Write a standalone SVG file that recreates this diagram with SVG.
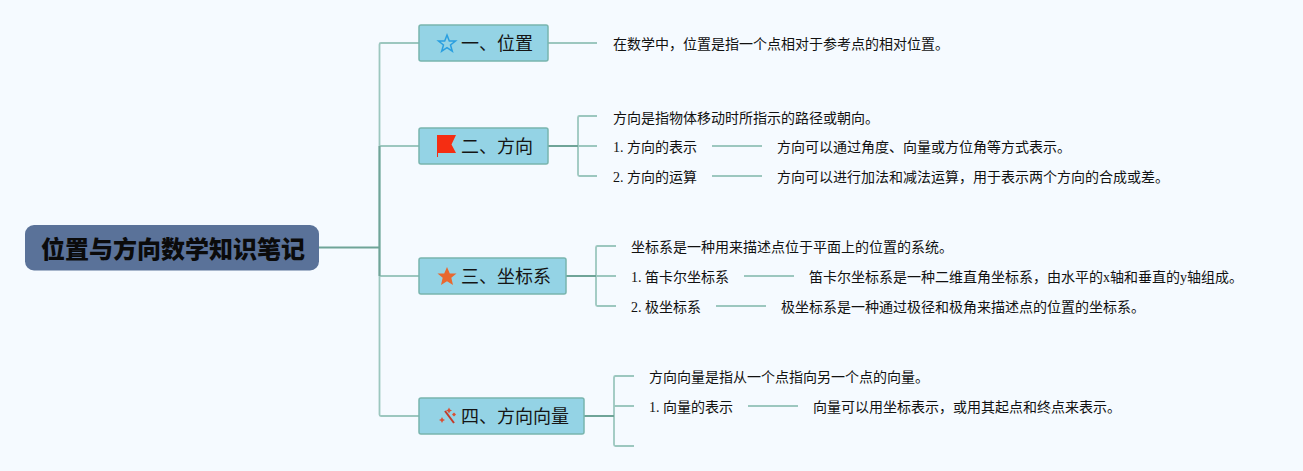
<svg xmlns="http://www.w3.org/2000/svg" width="1303" height="471" viewBox="0 0 1303 471">
<style>
text{font-family:"Liberation Serif","Noto Sans CJK SC",serif;fill:#111}
.t{font-size:14px}
.h{font-size:18px;font-family:"Noto Sans CJK SC","Noto Sans",sans-serif;fill:#151515}
.b{fill:#94d3e5;stroke:#78b5ae;stroke-width:1.5}
.l{fill:none;stroke:#9cc7bf;stroke-width:1.8}
.d{fill:none;stroke:#6fa498;stroke-width:2}
</style>
<rect width="1303" height="471" fill="#f5faff"/>
<g id="connectors">
<path class="l" d="M419 43H381Q379.500 43 379.500 44.500V414.500Q379.500 416 381 416H419M379.500 146H419M379.500 276H419"/>
<path class="d" d="M319 247.500H379.500M379.500 146V276"/>
<path class="l" d="M548 43H597"/>
<path class="l" d="M597 116H579.500Q578 116 578 117.500V174.500Q578 176 579.500 176H597M578 146H597"/>
<path class="d" d="M548 146H578"/>
<path class="l" d="M712 146H762M712 176H762"/>
<path class="l" d="M616 246H597.500Q596 246 596 247.500V304.500Q596 306 597.500 306H616M596 276H616"/>
<path class="d" d="M566 276H596"/>
<path class="l" d="M744 276H794M716 306H766"/>
<path class="l" d="M634 376H615.500Q614 376 614 377.500V444.500Q614 446 615.500 446H634M614 406H634"/>
<path class="d" d="M584 416H614"/>
<path class="l" d="M748 406H798"/>
</g>
<g id="root">
<rect x="25" y="225" width="294" height="45.500" rx="9" fill="#5a7299"/>
<text x="41" y="258" font-size="24" font-weight="900" fill="#0b0b0b" style="font-family:'Noto Sans CJK SC',sans-serif;fill:#0b0b0b">位置与方向数学知识笔记</text>
</g>
<g id="topic1">
<rect class="b" x="419" y="25" width="129" height="36" rx="2"/>
<path d="M447 35L449.300 41H455.500L450.500 45L452.300 51.200L447 47.600L441.700 51.200L443.500 45L438.500 41H444.700Z" fill="none" stroke="#2a9fe0" stroke-width="1.500"/>
<text class="h" x="461" y="50">一、位置</text>
</g>
<g id="topic2">
<rect class="b" x="419" y="128" width="129" height="36" rx="2"/>
<path d="M437 135H456L451.500 144.500L456 153H438V157H437Z" fill="#f52d12"/>
<text class="h" x="461" y="153">二、方向</text>
</g>
<g id="topic3">
<rect class="b" x="419" y="258" width="147" height="36" rx="2"/>
<path d="M447 267L449.800 273.400H456.500L451.300 277.800L453 285L447 281.200L441 285L442.700 277.800L437.500 273.400H444.200Z" fill="#e8682f"/>
<text class="h" x="461" y="283">三、坐标系</text>
</g>
<g id="topic4">
<rect class="b" x="419" y="398" width="165" height="36" rx="2"/>
<path d="M445 411L454 423" stroke="#c23b2a" stroke-width="2" fill="none"/>
<path d="M449 407.500L450 409.500L452 410.500L450 411.500L449 413.500L448 411.500L446 410.500L448 409.500ZM442 417L443 419L445 420L443 421L442 423L441 421L439 420L441 419ZM454 412.500L455 413.500L456 414.500L455 415.500L454 416.500L453 415.500L452 414.500L453 413.500Z" fill="#d94f33"/>
<text class="h" x="461" y="423">四、方向向量</text>
</g>
<g id="n1"><text class="t" x="613" y="49">在数学中，位置是指一个点相对于参考点的相对位置。</text></g>
<g id="n2"><text class="t" x="613" y="123">方向是指物体移动时所指示的路径或朝向。</text></g>
<g id="n3"><text class="t" x="613" y="152">1. 方向的表示</text></g>
<g id="n4"><text class="t" x="777" y="152">方向可以通过角度、向量或方位角等方式表示。</text></g>
<g id="n5"><text class="t" x="613" y="182">2. 方向的运算</text></g>
<g id="n6"><text class="t" x="777" y="182">方向可以进行加法和减法运算，用于表示两个方向的合成或差。</text></g>
<g id="n7"><text class="t" x="631" y="252">坐标系是一种用来描述点位于平面上的位置的系统。</text></g>
<g id="n8"><text class="t" x="631" y="282">1. 笛卡尔坐标系</text></g>
<g id="n9"><text class="t" x="809" y="282">笛卡尔坐标系是一种二维直角坐标系，由水平的x轴和垂直的y轴组成。</text></g>
<g id="n10"><text class="t" x="631" y="312">2. 极坐标系</text></g>
<g id="n11"><text class="t" x="781" y="312">极坐标系是一种通过极径和极角来描述点的位置的坐标系。</text></g>
<g id="n12"><text class="t" x="649" y="382">方向向量是指从一个点指向另一个点的向量。</text></g>
<g id="n13"><text class="t" x="649" y="412">1. 向量的表示</text></g>
<g id="n14"><text class="t" x="813" y="412">向量可以用坐标表示，或用其起点和终点来表示。</text></g>
</svg>
